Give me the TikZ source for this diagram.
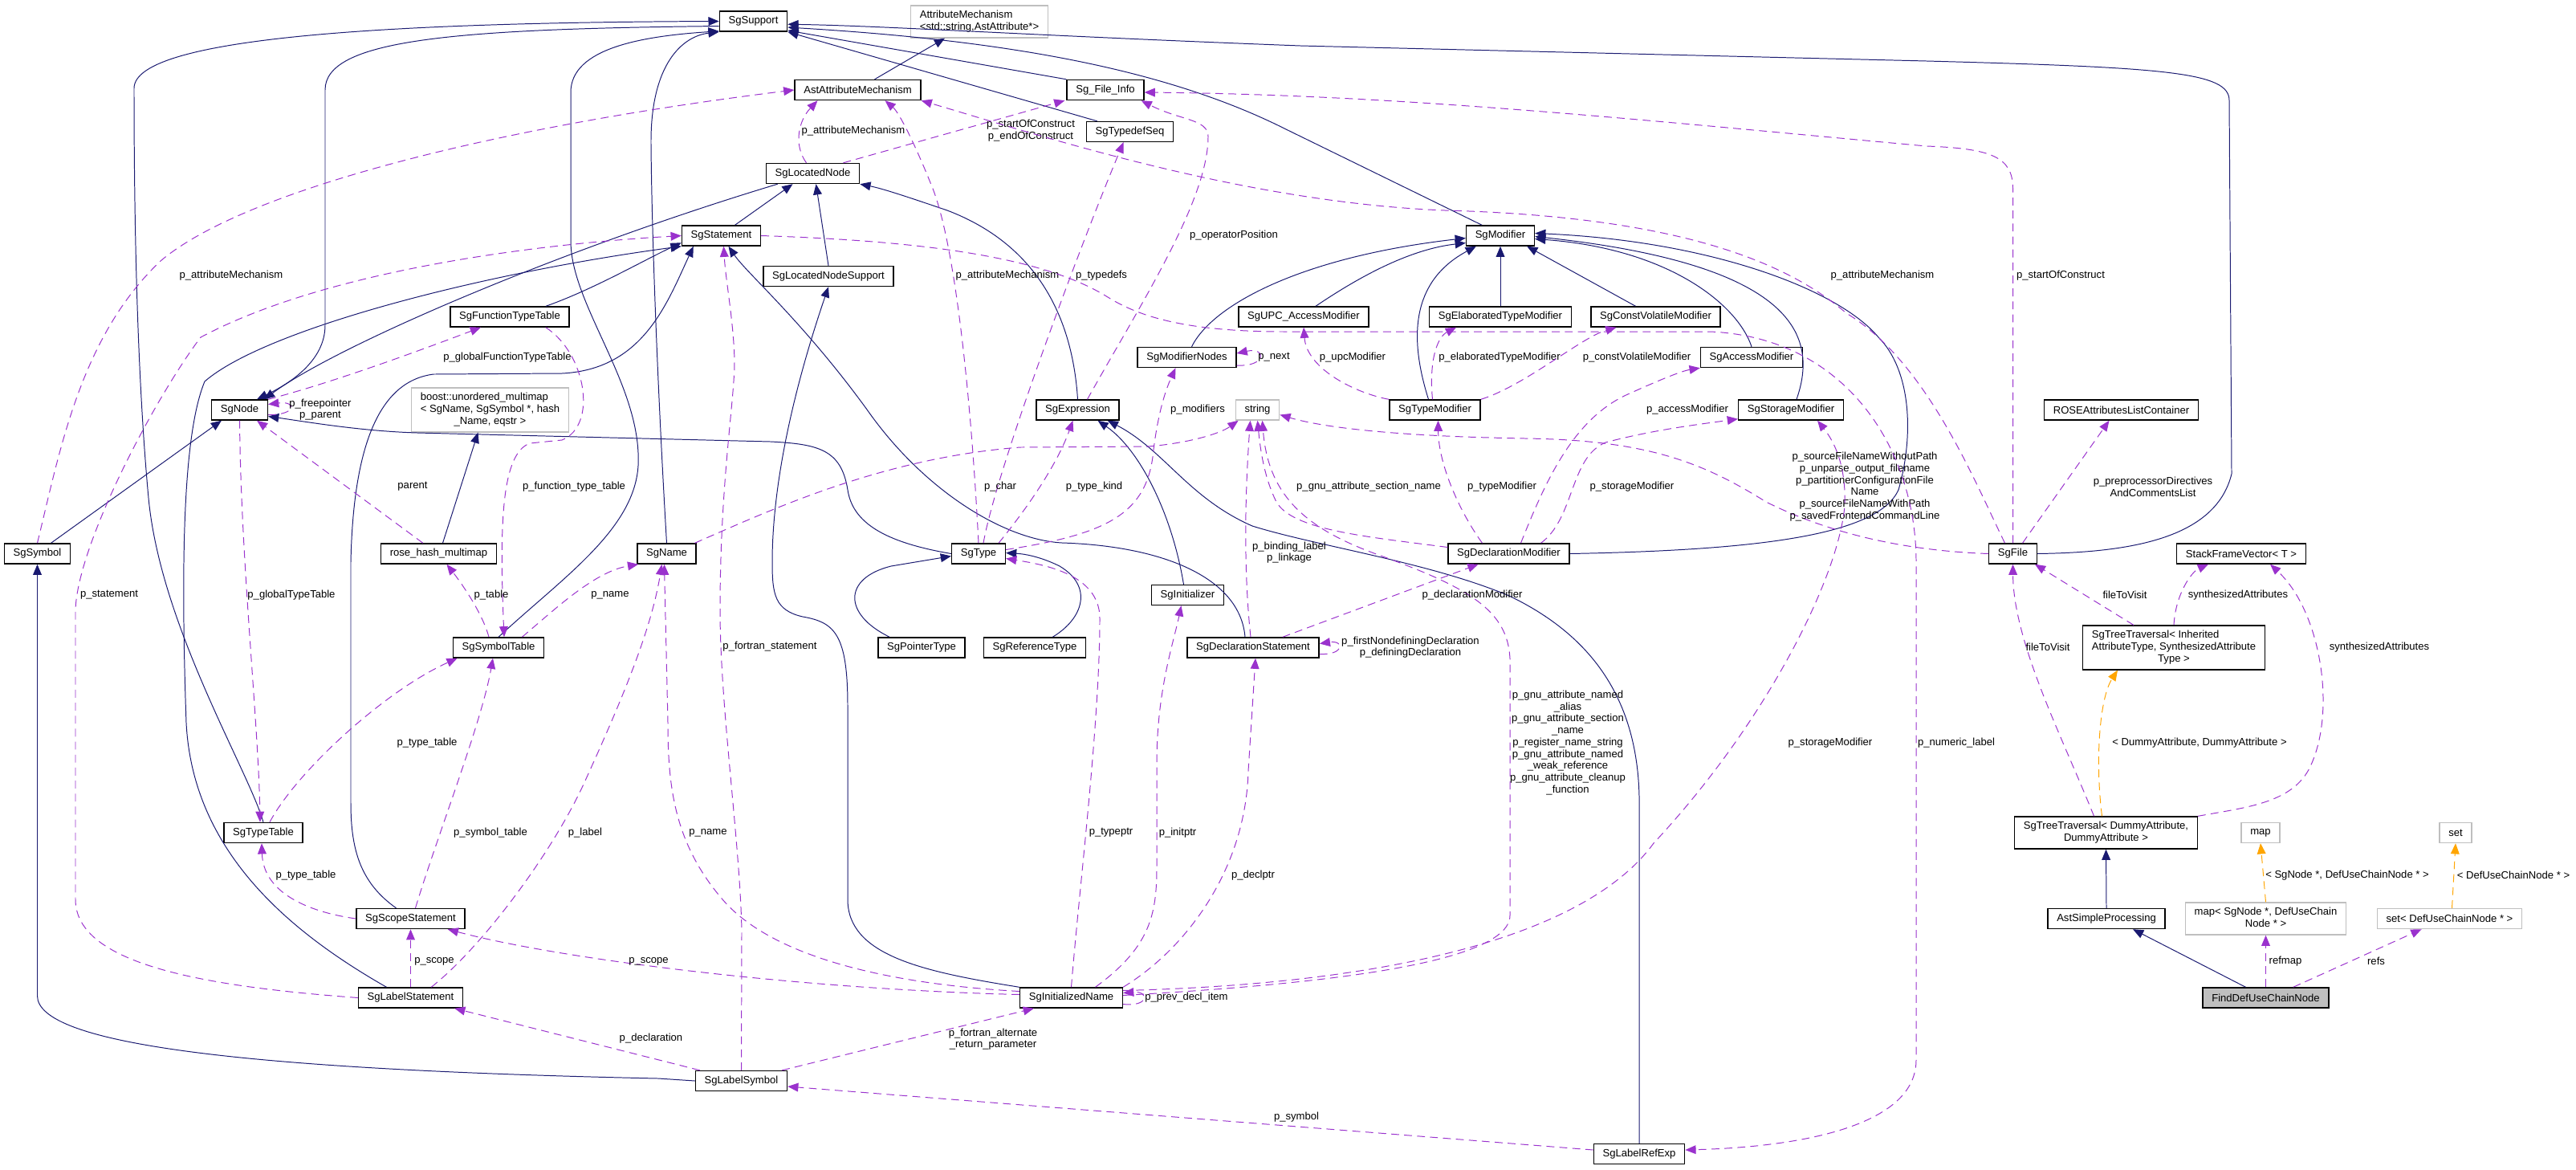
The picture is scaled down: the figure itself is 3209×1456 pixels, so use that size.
\documentclass[tikz,border=0pt]{standalone}
\usepackage{fontspec}
\setmainfont{Liberation Sans}
\usepackage{tikz}
\usetikzlibrary{arrows.meta,calc}
\definecolor{inhblue}{HTML}{191970}
\definecolor{usepurple}{HTML}{9A32CD}
\definecolor{tplorange}{HTML}{FFA500}
\definecolor{extgray}{HTML}{BFBFBF}
\newcommand{\dxfont}{\fontsize{9.3}{10.5}\selectfont}

\begin{document}
\begin{tikzpicture}[x=0.025cm, y=-0.025cm,
    cls/.style={draw=black, fill=white, line width=1pt, font=\dxfont,
        minimum height=0.625cm, inner xsep=0.28cm, inner ysep=0.13cm},
    ext/.style={cls, draw=extgray},
    focus/.style={cls, fill=extgray},
    lbl/.style={font=\dxfont, inner sep=0pt, align=center},
    inh/.style={draw=inhblue, line width=0.7pt, -{Triangle[length=0.33cm,width=0.27cm]}},
    mem/.style={draw=usepurple, line width=0.7pt, dash pattern=on 7pt off 4.5pt,
        -{Triangle[length=0.33cm,width=0.27cm]}},
    tpl/.style={mem, draw=tplorange}
]
    \useasboundingbox (0,0) rectangle (3209,1456);

    % classes
    \node[cls] (sup) at (938.5,26.5) {SgSupport};
    \node[ext] (attmech) at (1220,27) {\begin{tabular}{@{}l@{}}AttributeMechanism\\<std::string,AstAttribute*>\end{tabular}};
    \node[cls] (astatt) at (1068.5,112) {AstAttributeMechanism};
    \node[cls] (finfo) at (1377,112) {Sg\_File\_Info};
    \node[cls] (tdseq) at (1407.5,164) {SgTypedefSeq};
    \node[cls] (locnode) at (1012.5,216) {SgLocatedNode};
    \node[cls] (stmt) at (898.5,293.5) {SgStatement};
    \node[cls] (locsup) at (1032,344) {SgLocatedNodeSupport};
    \node[cls] (modif) at (1869,293.5) {SgModifier};
    \node[cls] (fttab) at (635,394.5) {SgFunctionTypeTable};
    \node[cls] (upcmod) at (1624,394.5) {SgUPC\_AccessModifier};
    \node[cls] (elabmod) at (1869,394.5) {SgElaboratedTypeModifier};
    \node[cls] (cvmod) at (2062.5,394.5) {SgConstVolatileModifier};
    \node[cls] (accmod) at (2182,445) {SgAccessModifier};
    \node[cls] (modnodes) at (1478.5,445) {SgModifierNodes};
    \node[cls] (sgnode) at (298.5,510.5) {SgNode};
    \node[ext] (boostmm) at (610.5,510.5) {\begin{tabular}{@{}l@{}}boost::unordered\_multimap\\< SgName, SgSymbol *, hash\\\multicolumn{1}{@{}c@{}}{\_Name, eqstr >}\end{tabular}};
    \node[cls] (expr) at (1342.5,510.5) {SgExpression};
    \node[ext] (strg) at (1566.5,510.5) {string};
    \node[cls] (typemod) at (1787.5,510.5) {SgTypeModifier};
    \node[cls] (stormod) at (2231,510.5) {SgStorageModifier};
    \node[cls] (roseattr) at (2642.5,510.5) {ROSEAttributesListContainer};
    \node[cls] (symbol) at (46.5,689.5) {SgSymbol};
    \node[cls] (rosehash) at (546.5,689.5) {rose\_hash\_multimap};
    \node[cls] (name) at (830.5,689.5) {SgName};
    \node[cls] (type) at (1219,689.5) {SgType};
    \node[cls] (declmod) at (1879.5,689.5) {SgDeclarationModifier};
    \node[cls] (file) at (2507.5,689.5) {SgFile};
    \node[cls] (stackfv) at (2792,689.5) {StackFrameVector< T >};
    \node[cls] (initzr) at (1479.5,741) {SgInitializer};
    \node[cls] (symtab) at (621,806.5) {SgSymbolTable};
    \node[cls] (ptrtype) at (1148,806.5) {SgPointerType};
    \node[cls] (reftype) at (1289,806.5) {SgReferenceType};
    \node[cls] (declstmt) at (1561,806.5) {SgDeclarationStatement};
    \node[cls] (travinh) at (2708,806.5) {\begin{tabular}{@{}l@{}}SgTreeTraversal< Inherited\\AttributeType, SynthesizedAttribute\\\multicolumn{1}{@{}c@{}}{Type >}\end{tabular}};
    \node[cls] (typetab) at (328,1037) {SgTypeTable};
    \node[cls] (travdum) at (2623.5,1037) {\begin{tabular}{@{}c@{}}SgTreeTraversal< DummyAttribute,\\DummyAttribute >\end{tabular}};
    \node[ext] (mapc) at (2816,1037) {map};
    \node[ext] (setc) at (3059,1037) {set};
    \node[cls] (scope) at (511.5,1144) {SgScopeStatement};
    \node[cls] (simpproc) at (2624,1144) {AstSimpleProcessing};
    \node[ext] (mapi) at (2822.5,1144) {\begin{tabular}{@{}c@{}}map< SgNode *, DefUseChain\\Node * >\end{tabular}};
    \node[ext] (seti) at (3051.5,1144) {set< DefUseChainNode * >};
    \node[cls] (labstmt) at (511.5,1242.5) {SgLabelStatement};
    \node[cls] (initname) at (1334.5,1242.5) {SgInitializedName};
    \node[focus] (finddu) at (2822.5,1242.5) {FindDefUseChainNode};
    \node[cls] (labsym) at (923.5,1346) {SgLabelSymbol};
    \node[cls] (labref) at (2042,1437) {SgLabelRefExp};

    % inheritance
    \draw[inh] (sup.188) .. controls (560,36) and (405,50) .. (405,112) -- (405,405) .. controls (405,450) and (360,478) .. ($(sgnode.north east)+(-14,0)$);
    \draw[inh] (typetab.north) .. controls (310,960) and (200,780) .. (185,620) .. controls (172,480) and (167,300) .. (167,110) .. controls (167,45) and (500,28) .. (sup.west);
    \draw[inh] (symtab.north) .. controls (700,720) and (790,660) .. (795,580) .. controls (800,480) and (711,380) .. (711,300) -- (711,115) .. controls (711,60) and (800,45) .. (sup.196);
    \draw[inh] (name.north) .. controls (820,500) and (812,300) .. (811,180) .. controls (810,80) and (850,45) .. (sup.south west);
    \draw[inh] (finfo.north west) -- (sup.345);
    \draw[inh] ($(tdseq.north west)+(14,0)$) -- (sup.south east);
    \draw[inh] (modif.150) -- (1600,160) .. controls (1450,85) and (1250,50) .. (sup.350);
    \draw[inh] (file.east) .. controls (2650,688) and (2760,672) .. (2780,590) -- (2777,125) .. controls (2777,90) and (2700,84) .. (2400,76) -- (1620,57) .. controls (1300,45) and (1100,32) .. (sup.355);
    \draw[inh] ($(astatt.north)+(21,0)$) -- ($(attmech.south)+(-43,0)$);
    \draw[inh] ($(locnode.south west)+(15,0)$) .. controls (700,310) and (420,430) .. ($(sgnode.north east)+(-5,0)$);
    \draw[inh] (type.west) .. controls (1100,675) and (1062,650) .. (1056,610) .. controls (1048,560) and (1020,553) .. (960,550) -- (520,539) .. controls (450,537) and (380,525) .. ($(sgnode.east)+(0,8)$);
    \draw[inh] ($(symbol.north)+(17,0)$) -- ($(sgnode.south west)+(13,0)$);
    \draw[inh] (labsym.west) -- (820,1343) .. controls (300,1332) and (46.5,1300) .. (46.5,1240) -- (symbol.south);
    \draw[inh] ($(fttab.north)+(45,0)$) .. controls (740,360) and (800,325) .. (stmt.190);
    \draw[inh] ($(labstmt.north)+(-30,0)$) .. controls (360,1160) and (240,1060) .. (232,900) .. controls (225,700) and (228,540) .. (255,475) .. controls (330,410) and (600,340) .. (stmt.south west);
    \draw[inh] ($(scope.north)+(-18,0)$) .. controls (450,1100) and (437,1060) .. (437,1000) -- (437,700) .. controls (440,560) and (470,475) .. (540,466) -- (700,465) .. controls (800,460) and (830,380) .. ($(stmt.south west)+(15,0)$);
    \draw[inh] ($(declstmt.north)+(-10,0)$) .. controls (1545,720) and (1450,680) .. (1323,676) .. controls (1250,672) and (1150,610) .. (1080,510) .. controls (1000,400) and (930,340) .. ($(stmt.south)+(9,0)$);
    \draw[inh] ($(stmt.north)+(17,0)$) -- ($(locnode.south)+(-25,0)$);
    \draw[inh] (locsup.north) -- ($(locnode.south)+(4,0)$);
    \draw[inh] (expr.north) .. controls (1335,380) and (1280,300) .. (1180,262) .. controls (1130,245) and (1100,235) .. (locnode.south east);
    \draw[inh] (initname.north west) .. controls (1150,1210) and (1056,1190) .. (1056,1120) -- (1056,880) .. controls (1056,790) and (1040,775) .. (1000,768) .. controls (965,760) and (962,740) .. (962,700) .. controls (962,600) and (990,480) .. (locsup.south);
    \draw[inh] (labref.north) -- (2042,1010) .. controls (2045,870) and (1980,790) .. (1880,742) .. controls (1780,700) and (1640,680) .. (1560,655) .. controls (1480,620) and (1450,560) .. ($(expr.south east)+(-15,0)$);
    \draw[inh] ($(initzr.north)+(-5,0)$) .. controls (1460,640) and (1420,560) .. ($(expr.south)+(25,0)$);
    \draw[inh] ($(ptrtype.north west)+(15,0)$) .. controls (1050,765) and (1050,720) .. (1110,705) -- ($(type.west)+(0,3)$);
    \draw[inh] ($(reftype.north east)+(-42,0)$) .. controls (1350,770) and (1362,730) .. (1320,705) .. controls (1300,695) and (1280,690) .. ($(type.east)+(0,-1)$);
    \draw[inh] ($(rosehash.north)+(5,0)$) -- ($(boostmm.south)+(-15,0)$);
    \draw[inh] ($(modnodes.north)+(6,0)$) .. controls (1510,380) and (1620,320) .. ($(modif.west)+(0,3)$);
    \draw[inh] ($(upcmod.north)+(15,0)$) .. controls (1700,340) and (1760,310) .. ($(modif.west)+(0,9)$);
    \draw[inh] ($(typemod.north)+(-8,0)$) .. controls (1755,420) and (1758,350) .. ($(modif.south west)+(13,0)$);
    \draw[inh] (elabmod.north) -- (modif.south);
    \draw[inh] ($(cvmod.north)+(-25,0)$) -- ($(modif.south east)+(-10,0)$);
    \draw[inh] (accmod.north) .. controls (2165,380) and (2080,310) .. ($(modif.east)+(0,4)$);
    \draw[inh] ($(stormod.north)+(7,0)$) .. controls (2265,420) and (2240,330) .. ($(modif.east)+(0,1)$);
    \draw[inh] (declmod.east) .. controls (2200,685) and (2340,665) .. (2365,610) .. controls (2385,540) and (2380,460) .. (2340,420) .. controls (2290,360) and (2130,300) .. ($(modif.east)+(0,-3)$);
    \draw[inh] (simpproc.north) -- (travdum.south);
    \draw[inh] ($(finddu.north)+(-25,0)$) -- ($(simpproc.south)+(33,0)$);

    % template instances
    \draw[tpl] ($(travdum.north)+(-5,0)$) .. controls (2610,950) and (2615,870) .. ($(travinh.south)+(-70,0)$) node[lbl] at (2740,925) {< DummyAttribute, DummyAttribute >};
    \draw[tpl] (mapi.north) -- (mapc.south) node[lbl] at (2924,1090) {< SgNode *, DefUseChainNode * >};
    \draw[tpl] ($(seti.north)+(3,0)$) -- (setc.south) node[lbl] at (3131,1090) {< DefUseChainNode * >};

    % members
    \draw[mem] (symbol.north) .. controls (75,560) and (100,420) .. (200,325) .. controls (300,240) and (600,160) .. (astatt.west) node[lbl] at (288,343) {p\_attributeMechanism};
    \draw[mem] ($(locnode.north)+(-8,0)$) .. controls (988,180) and (995,150) .. ($(astatt.south)+(-50,0)$) node[lbl] at (1063,163) {p\_attributeMechanism};
    \draw[mem] ($(locnode.north)+(38,0)$) -- ($(finfo.south west)+(-2,0)$) node[lbl] at (1284,163) {p\_startOfConstruct\\p\_endOfConstruct};
    \draw[mem] (type.north) .. controls (1210,500) and (1190,300) .. (1160,230) .. controls (1140,180) and (1120,140) .. ($(astatt.south)+(34,0)$) node[lbl] at (1255,343) {p\_attributeMechanism};
    \draw[mem] ($(type.north)+(6,0)$) .. controls (1240,590) and (1340,320) .. ($(tdseq.south)+(-8,0)$) node[lbl] at (1372,343) {p\_typedefs};
    \draw[mem] ($(type.north)+(25,0)$) .. controls (1290,620) and (1320,570) .. ($(expr.south)+(-6,0)$) node[lbl] at (1363,606) {p\_type\_kind};
    \draw[mem] ($(type.east)+(0,-5)$) .. controls (1380,665) and (1430,640) .. (1437,560) .. controls (1442,520) and (1450,490) .. ($(modnodes.south)+(-14,0)$) node[lbl] at (1492,510) {p\_modifiers};
    \draw[mem] ($(modnodes.east)+(0,10)$) .. controls (1578,457) and (1578,432) .. ($(modnodes.east)+(0,-5)$) node[lbl] at (1587,445) {p\_next};
    \draw[mem] ($(expr.north)+(12,0)$) .. controls (1420,380) and (1505,250) .. (1505,170) .. controls (1505,148) and (1470,150) .. ($(finfo.south east)+(-4,0)$) node[lbl] at (1537,293) {p\_operatorPosition};
    \draw[mem] ($(file.north)+(-10,0)$) .. controls (2460,600) and (2400,450) .. (2300,390) .. controls (2230,330) and (2100,270) .. (1800,262) .. controls (1550,252) and (1300,170) .. (astatt.south east) node[lbl] at (2345,343) {p\_attributeMechanism};
    \draw[mem] (file.north) -- (2507.5,235) .. controls (2507.5,195) and (2480,185) .. (2400,182) .. controls (2050,150) and (1750,118) .. ($(finfo.east)+(0,3)$) node[lbl] at (2567,343) {p\_startOfConstruct};
    \draw[mem] ($(file.north)+(12,0)$) -- ($(roseattr.south)+(-15,0)$) node[lbl] at (2682,606) {p\_preprocessorDirectives\\AndCommentsList};
    \draw[mem] (file.west) .. controls (2350,685) and (2260,655) .. (2200,625) .. controls (2120,575) and (2050,548) .. (1900,546) .. controls (1720,543) and (1640,530) .. ($(strg.east)+(0,6)$) node[lbl] at (2323,606) {p\_sourceFileNameWithoutPath\\p\_unparse\_output\_filename\\p\_partitionerConfigurationFile\\Name\\p\_sourceFileNameWithPath\\p\_savedFrontendCommandLine};
    \draw[mem] ($(declmod.west)+(0,-8)$) .. controls (1700,668) and (1610,660) .. (1590,625) .. controls (1575,595) and (1570,560) .. (strg.south) node[lbl] at (1705,606) {p\_gnu\_attribute\_section\_name};
    \draw[mem] ($(declstmt.north)+(-3,0)$) .. controls (1548,700) and (1552,600) .. ($(strg.south)+(-9,0)$) node[lbl] at (1606,688) {p\_binding\_label\\p\_linkage};
    \draw[mem] ($(name.north)+(35,0)$) .. controls (960,635) and (1100,570) .. (1271,557) -- (1430,556) .. controls (1480,552) and (1520,540) .. ($(strg.south west)+(4,0)$) node[lbl] at (1246,606) {p\_char};
    \draw[mem] ($(initname.east)+(0,-3)$) .. controls (1600,1228) and (1881,1205) .. (1881,1140) -- (1881,820) .. controls (1878,760) and (1830,732) .. (1720,692) .. controls (1630,660) and (1580,620) .. ($(strg.south)+(6,0)$) node[lbl] at (1953,925) {p\_gnu\_attribute\_named\\\_alias\\p\_gnu\_attribute\_section\\\_name\\p\_register\_name\_string\\p\_gnu\_attribute\_named\\\_weak\_reference\\p\_gnu\_attribute\_cleanup\\\_function};
    \draw[mem] ($(initname.east)+(0,-9)$) .. controls (1750,1225) and (1980,1160) .. (2060,1050) .. controls (2200,900) and (2290,720) .. (2298,630) .. controls (2300,580) and (2285,550) .. ($(stormod.south)+(33,0)$) node[lbl] at (2280,925) {p\_storageModifier};
    \draw[mem] ($(initname.east)+(0,8)$) .. controls (1432,1254) and (1432,1234) .. ($(initname.east)+(0,-6)$) node[lbl] at (1478,1242) {p\_prev\_decl\_item};
    \draw[mem] ($(initname.north)+(30,0)$) .. controls (1432,1180) and (1441,1140) .. (1441,1080) -- (1441,950) .. controls (1441,860) and (1462,800) .. ($(initzr.south)+(-8,0)$) node[lbl] at (1467,1037) {p\_initptr};
    \draw[mem] (initname.north east) .. controls (1480,1180) and (1552,1080) .. (1555,960) -- ($(declstmt.south)+(3,0)$) node[lbl] at (1561,1090) {p\_declptr};
    \draw[mem] (initname.north) .. controls (1345,1100) and (1370,900) .. (1370,770) .. controls (1370,715) and (1300,703) .. ($(type.east)+(0,6)$) node[lbl] at (1384,1037) {p\_typeptr};
    \draw[mem] ($(initname.west)+(0,-4)$) .. controls (1000,1232) and (700,1195) .. ($(scope.south east)+(-22,0)$) node[lbl] at (808,1197) {p\_scope};
    \draw[mem] ($(initname.west)+(0,-8)$) .. controls (1100,1225) and (960,1190) .. (900,1120) .. controls (840,1050) and (832,980) .. (832,900) -- ($(name.south)+(-3,0)$) node[lbl] at (882,1037) {p\_name};
    \draw[mem] (labsym.north) -- (924,1160) .. controls (922,1050) and (897,880) .. (897,760) .. controls (897,600) and (915,500) .. (915,450) .. controls (914,400) and (904,350) .. ($(stmt.south)+(3,0)$) node[lbl] at (959,805) {p\_fortran\_statement};
    \draw[mem] ($(labsym.north east)+(-7,0)$) -- ($(initname.south west)+(18,0)$) node[lbl] at (1237,1294) {p\_fortran\_alternate\\\_return\_parameter};
    \draw[mem] ($(labsym.north west)+(6,0)$) -- ($(labstmt.south east)+(-11,0)$) node[lbl] at (811,1293) {p\_declaration};
    \draw[mem] ($(labref.west)+(0,-5)$) -- ($(labsym.east)+(0,7)$) node[lbl] at (1615,1391) {p\_symbol};
    \draw[mem] (stmt.east) .. controls (1150,300) and (1300,320) .. (1380,370) .. controls (1420,395) and (1480,413) .. (1600,413) -- (2130,413) .. controls (2300,420) and (2387,560) .. (2387,700) -- (2387,1320) .. controls (2387,1400) and (2250,1428) .. ($(labref.east)+(0,-5)$) node[lbl] at (2437,925) {p\_numeric\_label};
    \draw[mem] (labstmt.west) .. controls (250,1228) and (94,1200) .. (94,1120) -- (94,760) .. controls (96,680) and (190,500) .. (250,420) .. controls (400,340) and (650,305) .. (stmt.west) node[lbl] at (136,741) {p\_statement};
    \draw[mem] (sgnode.north east) .. controls (420,475) and (540,430) .. ($(fttab.south)+(-36,0)$) node[lbl] at (632,445) {p\_globalFunctionTypeTable};
    \draw[mem] ($(sgnode.east)+(0,6)$) .. controls (370,517) and (370,499) .. ($(sgnode.east)+(0,-7)$) node[lbl] at (399,510) {p\_freepointer\\p\_parent};
    \draw[mem] (sgnode.south) .. controls (300,700) and (322,900) .. ($(typetab.north)+(-4,0)$) node[lbl] at (363,741) {p\_globalTypeTable};
    \draw[mem] ($(rosehash.north west)+(53,0)$) -- ($(sgnode.south east)+(-14,0)$) node[lbl] at (514,606) {parent};
    \draw[mem] ($(fttab.south east)+(-30,0)$) .. controls (730,440) and (745,530) .. (700,548) -- (660,552) .. controls (625,565) and (622,650) .. ($(symtab.north)+(7,0)$) node[lbl] at (715,606) {p\_function\_type\_table};
    \draw[mem] ($(symtab.north)+(-12,0)$) .. controls (600,760) and (570,720) .. ($(rosehash.south)+(10,0)$) node[lbl] at (612,741) {p\_table};
    \draw[mem] ($(symtab.north east)+(-28,0)$) .. controls (690,760) and (740,712) .. ($(name.south west)+(2,0)$) node[lbl] at (760,741) {p\_name};
    \draw[mem] (labstmt.north) -- (scope.south) node[lbl] at (541,1197) {p\_scope};
    \draw[mem] ($(labstmt.north east)+(-40,0)$) .. controls (600,1180) and (690,1060) .. (730,970) .. controls (780,860) and (812,780) .. ($(name.south)+(-6,0)$) node[lbl] at (729,1037) {p\_label};
    \draw[mem] ($(scope.north)+(6,0)$) .. controls (545,1040) and (600,900) .. ($(symtab.south)+(-7,0)$) node[lbl] at (611,1037) {p\_symbol\_table};
    \draw[mem] (scope.west) .. controls (380,1135) and (328,1110) .. ($(typetab.south)+(-2,0)$) node[lbl] at (381,1090) {p\_type\_table};
    \draw[mem] ($(typetab.north)+(8,0)$) .. controls (370,960) and (480,860) .. ($(symtab.south west)+(6,0)$) node[lbl] at (532,925) {p\_type\_table};
    \draw[mem] ($(declstmt.north east)+(-46,0)$) -- ($(declmod.south)+(-38,0)$) node[lbl] at (1834,741) {p\_declarationModifier};
    \draw[mem] ($(declstmt.east)+(0,8)$) .. controls (1675,816) and (1675,797) .. ($(declstmt.east)+(0,-5)$) node[lbl] at (1757,806) {p\_firstNondefiningDeclaration\\p\_definingDeclaration};
    \draw[mem] ($(declmod.north)+(-33,0)$) .. controls (1820,640) and (1792,580) .. ($(typemod.south)+(4,0)$) node[lbl] at (1871,606) {p\_typeModifier};
    \draw[mem] ($(declmod.north)+(40,0)$) .. controls (1962,645) and (1955,570) .. (2000,551) .. controls (2060,535) and (2120,528) .. ($(stormod.south west)+(0,-2)$) node[lbl] at (2033,606) {p\_storageModifier};
    \draw[mem] ($(declmod.north)+(15,0)$) .. controls (1925,600) and (1960,520) .. (2030,490) .. controls (2070,472) and (2095,462) .. (accmod.south west) node[lbl] at (2102,510) {p\_accessModifier};
    \draw[mem] (typemod.north west) .. controls (1690,490) and (1628,460) .. (upcmod.south) node[lbl] at (1685,445) {p\_upcModifier};
    \draw[mem] ($(typemod.north)+(-3,0)$) .. controls (1780,450) and (1790,420) .. ($(elabmod.south)+(-55,0)$) node[lbl] at (1868,445) {p\_elaboratedTypeModifier};
    \draw[mem] (typemod.north east) .. controls (1900,480) and (1970,420) .. ($(cvmod.south)+(-49,0)$) node[lbl] at (2039,445) {p\_constVolatileModifier};
    \draw[mem] ($(travinh.north)+(-50,0)$) -- ($(file.south east)+(-3,0)$) node[lbl] at (2647,741) {fileToVisit};
    \draw[mem] (travinh.north) .. controls (2710,740) and (2730,712) .. ($(stackfv.south)+(-41,0)$) node[lbl] at (2788,741) {synthesizedAttributes};
    \draw[mem] ($(travdum.north)+(-15,0)$) .. controls (2570,920) and (2508,800) .. (file.south) node[lbl] at (2551,806) {fileToVisit};
    \draw[mem] (travdum.north east) .. controls (2800,1005) and (2860,1000) .. (2880,950) .. controls (2910,880) and (2890,760) .. ($(stackfv.south)+(36,0)$) node[lbl] at (2964,806) {synthesizedAttributes};
    \draw[mem] (finddu.north) -- (mapi.south) node[lbl] at (2847,1197) {refmap};
    \draw[mem] ($(finddu.north east)+(-45,0)$) -- ($(seti.south)+(-35,0)$) node[lbl] at (2960,1197) {refs};
\end{tikzpicture}
\end{document}
